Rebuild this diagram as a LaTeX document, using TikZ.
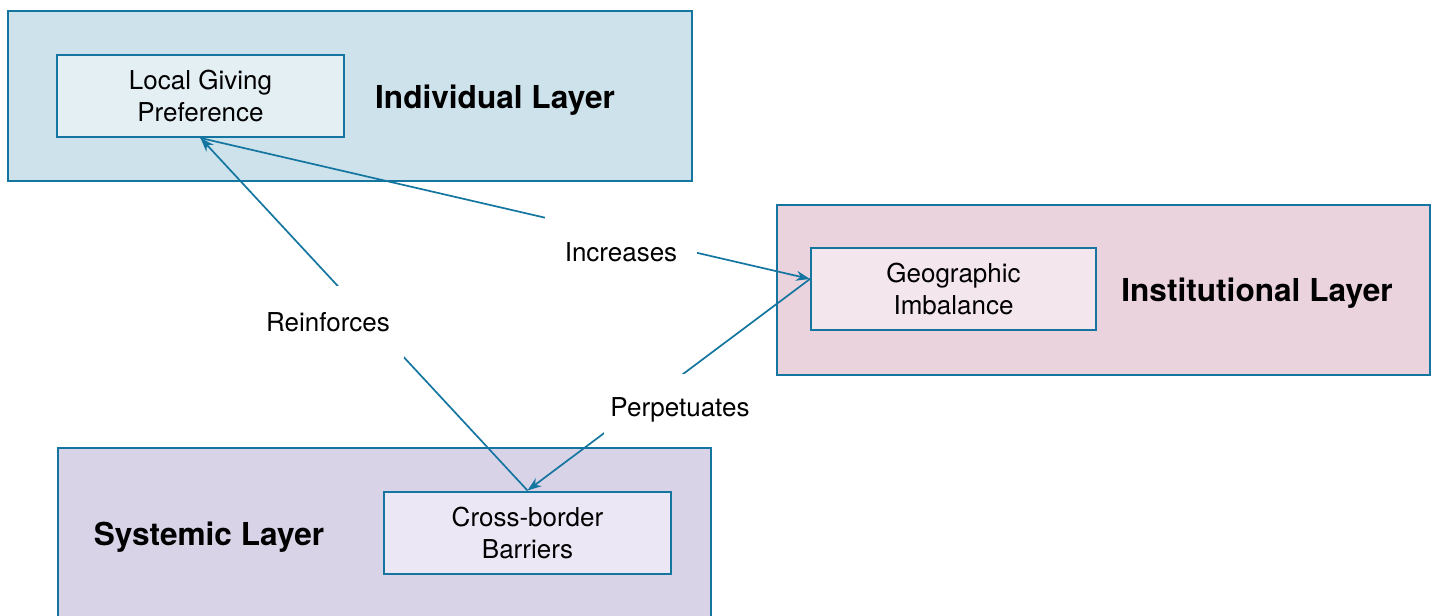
\documentclass[tikz,border=0pt]{standalone}
\usepackage{fontspec}
\setmainfont{TeX Gyre Heros}
\usetikzlibrary{positioning}
\usetikzlibrary{arrows.meta}
\definecolor{edgeblue}{RGB}{20,118,160}
\definecolor{indfill}{RGB}{205,226,235}
\definecolor{indnode}{RGB}{228,239,244}
\definecolor{insfill}{RGB}{234,211,221}
\definecolor{insnode}{RGB}{244,230,237}
\definecolor{sysfill}{RGB}{217,211,232}
\definecolor{sysnode}{RGB}{235,231,244}

\begin{document}
\begin{tikzpicture}[x=0.5pt, y=-0.5pt,
    layer/.style={draw=edgeblue, line width=1pt, minimum height=85pt, inner sep=0pt},
    factor/.style={draw=edgeblue, line width=1pt, minimum width=143.5pt, minimum height=41pt, inner sep=0pt, align=center, font=\fontsize{13}{16}\selectfont},
    title/.style={anchor=base, font=\fontsize{15.8}{19}\selectfont\bfseries},
    link/.style={draw=edgeblue, line width=0.85pt, -{Stealth[length=7pt, width=5pt]}},
    tag/.style={fill=white, minimum width=76pt, minimum height=36pt, font=\fontsize{13}{16}\selectfont}]
    \useasboundingbox (0,0) rectangle (1436,616);
    \clip (0,0) rectangle (1436,616);

    % layers
    \node (individual) [layer, fill=indfill, minimum width=342pt] at (350,96) {};
    \node (institutional) [layer, fill=insfill, minimum width=326.5pt] at (1103.5,290) {};
    \node (systemic) [layer, fill=sysfill, minimum width=326.5pt] at (384.5,533) {};

    \node (individualtitle) [title] at (495,108) {Individual Layer};
    \node (institutionaltitle) [title] at (1257,301) {Institutional Layer};
    \node (systemictitle) [title] at (209,545) {Systemic Layer};

    % factors
    \node (local) [factor, fill=indnode] at (200.5,96) {Local Giving\\Preference};
    \node (imbalance) [factor, fill=insnode, minimum width=142.5pt] at (953.5,289) {Geographic\\Imbalance};
    \node (barriers) [factor, fill=sysnode] at (527.5,532.5) {Cross-border\\Barriers};

    \draw[link] (local.south) -- (imbalance.176);
    \draw[link] (barriers.north) -- (local.south);
    \draw[link] (imbalance.176) -- (barriers.north);

    \node (increases) [tag] at (621,252) {Increases};
    \node (reinforces) [tag] at (328,322) {Reinforces};
    \node (perpetuates) [tag] at (680,410) {Perpetuates};
\end{tikzpicture}
\end{document}
